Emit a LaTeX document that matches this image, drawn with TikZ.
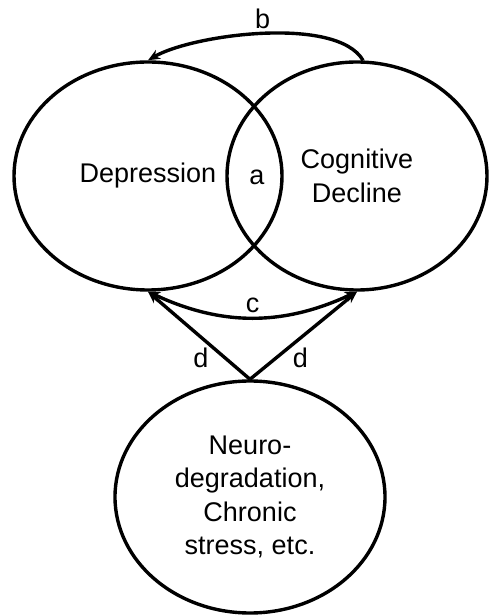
\documentclass[tikz,border=0pt]{standalone}
\usepackage{fontspec}
\setmainfont{Liberation Sans}
\usetikzlibrary{arrows.meta,shapes.geometric}

\begin{document}
\begin{tikzpicture}[x=1pt,y=1pt,>={Stealth[length=12pt,width=10pt]},line width=3.4pt,
  font=\fontsize{27}{33.5}\selectfont,
  blob/.style={ellipse,draw,inner sep=0pt,align=center}]
\useasboundingbox (0,0) rectangle (488,615);
\node[blob,minimum width=268pt,minimum height=228pt] (dep) at (148,439) {Depression};
\node[blob,minimum width=260pt,minimum height=228pt] (cog) at (357,439) {Cognitive\\Decline};
\node[blob,minimum width=270pt,minimum height=232pt] (neuro) at (250,118) {Neuro-\\degradation,\\Chronic\\stress, etc.};
\node (overlap) at (257,438) {a};
\draw[->] (cog.87) to[out=120,in=30,looseness=0.62] node[above]{b} (dep.north);
\draw[<->] (dep.south) to[bend right=25] node[above]{c} (cog.south);
\draw[->] (neuro.north) -- node[pos=0.25,left=11pt]{d} (dep.south);
\draw[->] (neuro.north) -- node[pos=0.25,right=11pt]{d} (cog.south);
\end{tikzpicture}
\end{document}
